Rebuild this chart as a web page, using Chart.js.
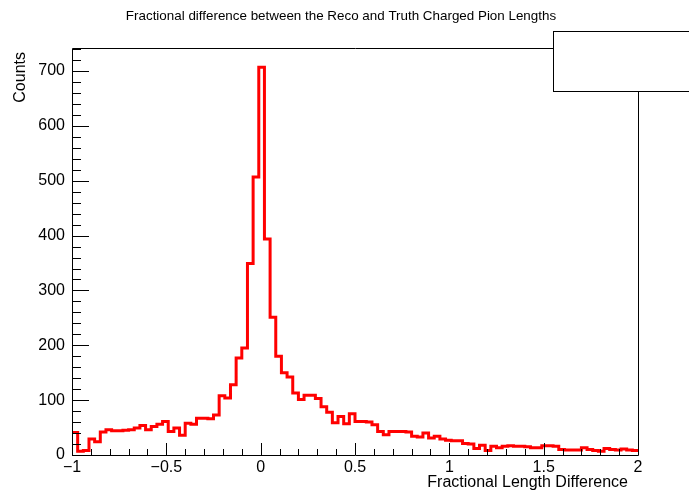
<!DOCTYPE html>
<html>
<head>
<meta charset="utf-8">
<script src="https://cdn.jsdelivr.net/npm/chart.js@4.4.1/dist/chart.umd.min.js"></script>
<style>
  html, body { margin: 0; padding: 0; background: #ffffff; }
  #wrap { width: 689px; height: 491px; }
</style>
</head>
<body>
<div id="wrap"><canvas id="c" width="689" height="491"></canvas></div>
<script>
// Histogram binning (100 bins from -1 to 2)
const xMin = -1;
const xMax = 2;
const binWidth = 0.03;

// Bin contents
const counts = [
  41, 7, 8, 29, 24, 42, 46, 44, 44, 45,
  46, 49, 54, 46, 52, 56, 61, 43, 49, 36,
  58, 56, 67, 67, 66, 73, 108, 104, 128, 177,
  195, 349, 507, 707, 394, 251, 180, 150, 142, 113,
  101, 109, 109, 103, 88, 78, 59, 70, 57, 75,
  61, 61, 60, 55, 43, 37, 43, 43, 43, 42,
  34, 33, 40, 31, 34, 29, 27, 26, 26, 21,
  20, 12, 18, 8, 16, 13, 16, 17, 16, 16,
  15, 13, 13, 17, 17, 16, 10, 9, 9, 9,
  13, 10, 8, 7, 12, 10, 9, 11, 9, 8
];

// Axis labels
const xTicks = [-1, -0.5, 0, 0.5, 1, 1.5, 2];
const yTicks = [0, 100, 200, 300, 400, 500, 600, 700];
const yMax = 742;

const titleText = 'Fractional difference between the Reco and Truth Charged Pion Lengths';
const xTitle = 'Fractional Length Difference';
const yTitle = 'Counts';

// Step outline: one point per lower bin edge, plus the closing upper edge
const points = counts.map((v, i) => ({ x: xMin + i * binWidth, y: v }));
points.push({ x: xMax, y: counts[counts.length - 1] });

const FONT = '"Liberation Sans", Arial, Helvetica, sans-serif';

function fmt(v) {
  const s = String(Math.abs(v));
  return v < 0 ? '\u2212' + s : s;
}

// Frame, inward tick marks, stats box and titles
const framePlugin = {
  id: 'frame',
  afterDatasetsDraw(chart) {
    const ctx = chart.ctx;
    const a = chart.chartArea;
    const xs = chart.scales.x;
    const ys = chart.scales.y;
    ctx.save();
    ctx.strokeStyle = '#000';
    ctx.lineWidth = 1;
    ctx.beginPath();
    ctx.rect(Math.round(a.left) + 0.5, Math.round(a.top) + 0.5,
             Math.round(a.right - a.left), Math.round(a.bottom - a.top));
    ctx.stroke();

    // x ticks: major every 0.5, minor every 0.1
    ctx.beginPath();
    for (let k = 0; k <= 30; k++) {
      const v = xMin + k * 0.1;
      const px = Math.round(xs.getPixelForValue(v)) + 0.5;
      const len = (k % 5 === 0) ? 12 : 6;
      ctx.moveTo(px, a.bottom);
      ctx.lineTo(px, a.bottom - len);
    }
    // y ticks: major every 100, minor every 20
    for (let v = 0; v <= yMax; v += 20) {
      const py = Math.round(ys.getPixelForValue(v)) + 0.5;
      const len = (v % 100 === 0) ? 17 : 9;
      ctx.moveTo(a.left, py);
      ctx.lineTo(a.left + len, py);
    }
    ctx.stroke();

    // statistics box (empty)
    ctx.fillStyle = '#fff';
    ctx.fillRect(553, 31, 140, 60);
    ctx.strokeRect(553.5, 31.5, 140, 60);

    // titles
    ctx.fillStyle = '#000';
    ctx.font = '13.4px ' + FONT;
    ctx.textAlign = 'center';
    ctx.textBaseline = 'middle';
    ctx.fillText(titleText, 341, 16);

    ctx.font = '16px ' + FONT;
    ctx.textAlign = 'right';
    ctx.fillText(xTitle, 628, 483);

    ctx.translate(21, 52);
    ctx.rotate(-Math.PI / 2);
    ctx.textAlign = 'right';
    ctx.fillText(yTitle, 0, 0);
    ctx.restore();
  }
};

new Chart(document.getElementById('c'), {
  type: 'line',
  data: {
    datasets: [{
      data: points,
      stepped: 'before',
      borderColor: '#ff0000',
      borderWidth: 3,
      pointRadius: 0,
      fill: false,
      tension: 0
    }]
  },
  options: {
    responsive: false,
    animation: false,
    devicePixelRatio: 1,
    layout: { padding: { top: 48, right: 51, left: 0, bottom: 0 } },
    plugins: {
      legend: { display: false },
      title: { display: false },
      tooltip: { enabled: false }
    },
    scales: {
      x: {
        type: 'linear',
        min: xMin,
        max: xMax,
        grid: { display: false, drawTicks: false },
        border: { display: false },
        afterBuildTicks(scale) { scale.ticks = xTicks.map(v => ({ value: v })); },
        afterFit(scale) { scale.height = 36; },
        ticks: {
          color: '#000',
          padding: 3,
          maxRotation: 0,
          autoSkip: false,
          font: { family: FONT, size: 16 },
          callback: (v) => fmt(v)
        }
      },
      y: {
        type: 'linear',
        min: 0,
        max: yMax,
        grid: { display: false, drawTicks: false },
        border: { display: false },
        afterBuildTicks(scale) { scale.ticks = yTicks.map(v => ({ value: v })); },
        afterFit(scale) { scale.width = 72; },
        ticks: {
          color: '#000',
          padding: 7,
          autoSkip: false,
          font: { family: FONT, size: 16 },
          callback: (v) => fmt(v)
        }
      }
    }
  },
  plugins: [framePlugin]
});
</script>
</body>
</html>
